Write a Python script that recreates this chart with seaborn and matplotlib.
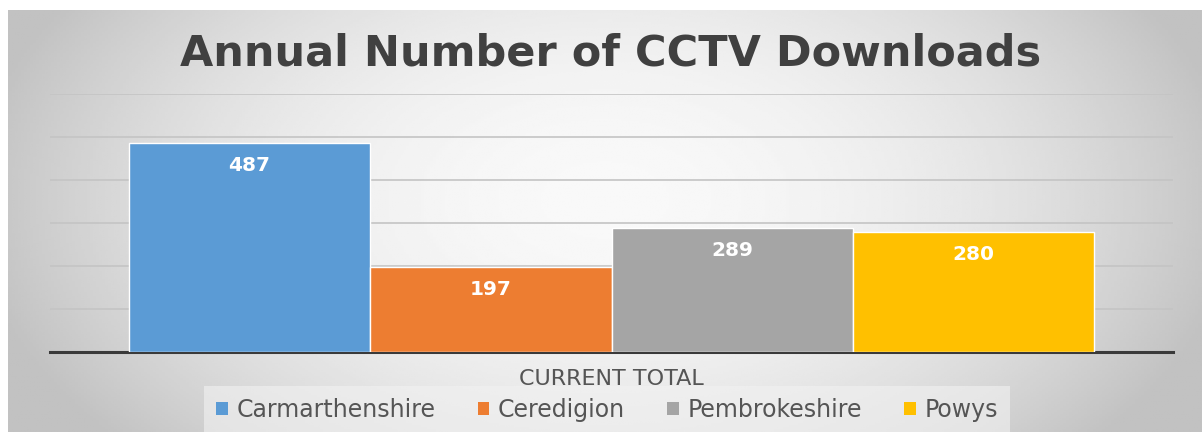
import numpy as np
import pandas as pd
import matplotlib
matplotlib.use("Agg")
import matplotlib.pyplot as plt
from matplotlib.patches import Patch
import seaborn as sns

counties = ["Carmarthenshire", "Ceredigion", "Pembrokeshire", "Powys"]
downloads = [487, 197, 289, 280]
category = "CURRENT TOTAL"
colours = ["#5B9BD5", "#ED7D31", "#A5A5A5", "#FFC000"]
title = "Annual Number of CCTV Downloads"

df = pd.DataFrame({"cat": [category] * len(counties), "county": counties, "n": downloads})

sns.set_theme(style="white")
plt.rcParams["font.family"] = ["DejaVu Sans"]

fig = plt.figure(figsize=(12.02, 4.32), dpi=100)
fig.patch.set_facecolor("white")

# grey gradient chart background (white strip on top and left)
bg = fig.add_axes([8 / 1202, 0, 1 - 8 / 1202, 1 - 10 / 432])
gx, gy = np.meshgrid(np.linspace(-1, 1, 400), np.linspace(-1, 1, 200))
r2 = gx ** 2 + 0.35 * (gy + 0.1) ** 2
shade = np.clip(0.975 - 0.19 * r2, 0.76, 1)
bg.imshow(shade, cmap="gray", vmin=0, vmax=1, aspect="auto", extent=[0, 1, 0, 1])
bg.set_axis_off()

ax = fig.add_axes([50 / 1202, 1 - 352 / 432, (1173 - 50) / 1202, (352 - 94) / 432])
ax.patch.set_alpha(0)
sns.barplot(data=df, x="cat", y="n", hue="county", palette=colours, width=0.86,
            gap=0, saturation=1, legend=False, ax=ax, zorder=3)
ax.set_ylim(0, 600)
ax.set_xlim(-0.5, 0.5)
ax.set_yticks(range(100, 601, 100))
ax.yaxis.grid(True, color="#c4c4c4", lw=1.2, zorder=0)
ax.set_axisbelow(True)
ax.tick_params(axis="y", left=False, labelleft=False)
ax.tick_params(axis="x", bottom=False, pad=6, labelsize=16, labelcolor="#555555")
ax.set_xlabel("")
ax.set_ylabel("")
for side in ["top", "right", "left"]:
    ax.spines[side].set_visible(False)
ax.spines["bottom"].set_color("#3a3a3a")
ax.spines["bottom"].set_linewidth(2.2)

for bars in ax.containers:
    ax.bar_label(bars, padding=-23, color="white", fontsize=14.5, fontweight="bold")

fig.text(0.508, 1 - 65 / 432, title, ha="center", va="baseline", fontsize=31,
         fontweight="bold", color="#404040")

handles = [Patch(facecolor=c, edgecolor="none", label=l) for c, l in zip(colours, counties)]
leg = fig.legend(handles=handles, loc="center", bbox_to_anchor=(0.505, 0.051), ncol=4,
                 frameon=True, fontsize=17, handlelength=0.5, handleheight=0.5,
                 handletextpad=0.35, columnspacing=1.8, borderpad=0.2)
leg.get_frame().set_facecolor("#f2f2f2")
leg.get_frame().set_alpha(0.6)
leg.get_frame().set_edgecolor("none")
leg.get_frame().set_boxstyle("square")
for t in leg.get_texts():
    t.set_color("#555555")

fig.savefig("out.png", dpi=100)
